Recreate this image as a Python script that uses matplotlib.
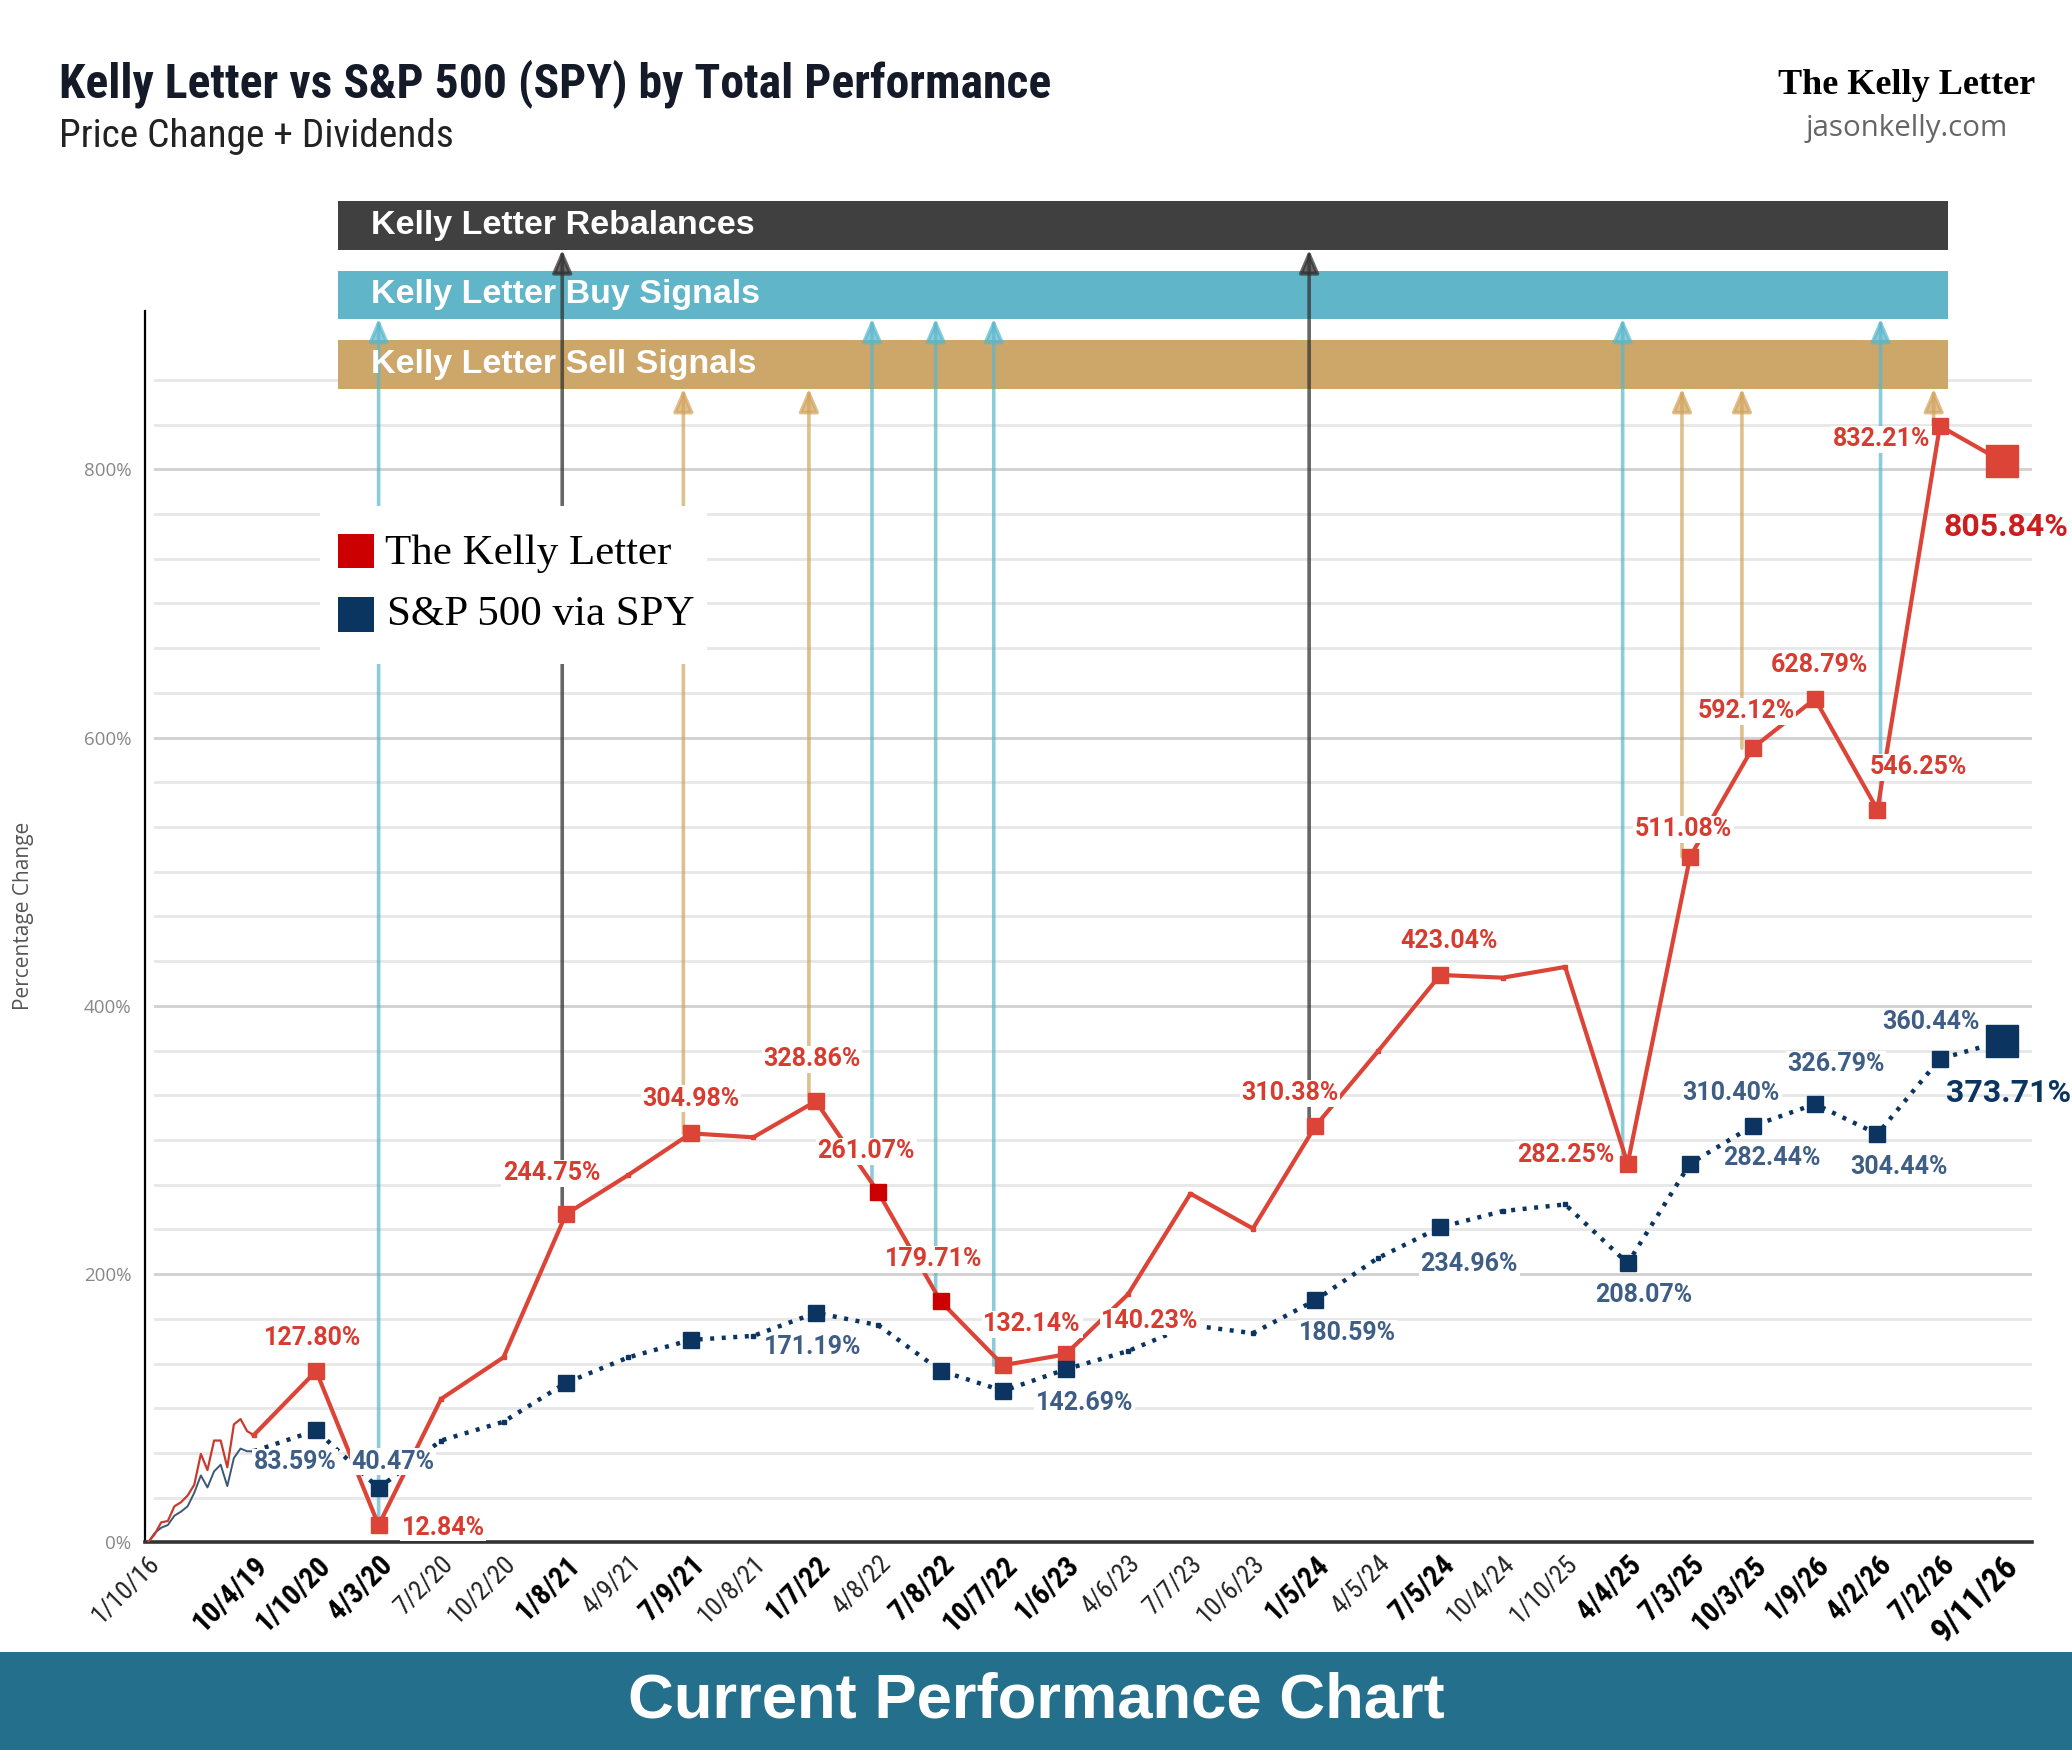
import numpy as np
import matplotlib
matplotlib.use("Agg")
import matplotlib.pyplot as plt
from matplotlib.patches import Rectangle
from matplotlib import font_manager

# ---- data ----
tick_labels = ['1/10/16', '10/4/19', '1/10/20', '4/3/20', '7/2/20', '10/2/20', '1/8/21', '4/9/21',
               '7/9/21', '10/8/21', '1/7/22', '4/8/22', '7/8/22', '10/7/22', '1/6/23', '4/6/23',
               '7/7/23', '10/6/23', '1/5/24', '4/5/24', '7/5/24', '10/4/24', '1/10/25', '4/4/25',
               '7/3/25', '10/3/25', '1/9/26', '4/2/26', '7/2/26', '9/11/26']
bold_dates = ['10/4/19', '1/10/20', '4/3/20', '1/8/21', '7/9/21', '1/7/22', '7/8/22', '10/7/22',
              '1/6/23', '1/5/24', '7/5/24', '4/4/25', '7/3/25', '10/3/25', '1/9/26', '4/2/26',
              '7/2/26', '9/11/26']

# weekly history 1/10/16 -> 10/4/19
early_kelly = [0, 6, 15, 16, 27, 30, 35, 43, 66, 54, 76, 76, 56, 88, 92, 83, 80]
early_spy = [0, 7, 11, 13, 20, 23, 27, 37, 50, 41, 53, 58, 42, 63, 70, 68, 68]

# quarterly points 10/4/19 -> 9/11/26
kelly = [80, 127.80, 12.84, 107, 138, 244.75, 274, 304.98, 302, 328.86, 261.07, 179.71, 132.14,
         140.23, 185, 260, 234, 310.38, 366, 423.04, 421, 429, 282.25, 511.08, 592.12, 628.79,
         546.25, 832.21, 805.84]
spy = [68, 83.59, 40.47, 76, 90, 119, 138, 151, 154, 171.19, 162, 128, 113, 129, 142.69, 162,
       156, 180.59, 212, 234.96, 247, 252, 208.07, 282.44, 310.40, 326.79, 304.44, 360.44, 373.71]

kelly_markers = [1, 2, 5, 7, 9, 12, 13, 17, 19, 22, 23, 24, 25, 26, 27]
kelly_dark_markers = [10, 11]
spy_markers = [1, 2, 5, 7, 9, 11, 12, 13, 17, 19, 22, 23, 24, 25, 26, 27]
kelly_labeled = [1, 2, 5, 7, 9, 10, 11, 12, 13, 17, 19, 22, 23, 24, 25, 26, 27]
spy_labeled = [1, 2, 9, 14, 17, 19, 22, 23, 24, 25, 26, 27]

buy_signals = [2, 10, 11, 12, 22, 26]
sell_signals = [7, 9, 23, 24, 27]
rebalances = [5, 17]

# layout: label offsets (px on the 1568 grid) and arrow shifts (x units)
kelly_offsets = [(-3, 25), (49, -2), (-11, 31), (0, 26), (-3, 32), (-9, 31), (-5, 32), (22, 31),
                 (64, 25), (-19, 25), (7, 26), (-47, 7), (-5, 21), (-5, 28), (3, 26), (31, 32),
                 (-44, -10)]
spy_offsets = [(-16, -24), (11, 20), (-2, -26), (-33, -39), (24, -25), (22, -28), (12, -24),
               (62, 4), (-16, 25), (16, 30), (16, -25), (-7, 28)]
buy_shift = [0, -0.1, -0.08, -0.15, -0.08, 0.05]
sell_shift = [-0.12, -0.11, -0.13, -0.17, -0.1]
rebalance_shift = [-0.06, -0.1]

# ---- fonts ----
names = set(f.name for f in font_manager.fontManager.ttflist)


def pick(*cands):
    for c in cands:
        if c in names:
            return c
    return 'DejaVu Sans'


NARROW = pick('Liberation Sans Narrow', 'Roboto Condensed', 'Roboto')
SANS = pick('Liberation Sans', 'Arial', 'DejaVu Sans')
SERIF = pick('Liberation Serif', 'DejaVu Serif')
ROBOTO = pick('Roboto', 'Liberation Sans')
OPEN = pick('Open Sans', 'Lato', 'DejaVu Sans')

RED = '#dc4437'
DARKRED = '#cc0000'
NAVY = '#0b3560'
RED_TXT = '#d83b2f'
BLUE_TXT = '#3e5e86'
GREY = '#404040'

# layout grid (reference measured on a 1568 x 1324 view)
W, H = 1568, 1324
S = 2072 / W

fig = plt.figure(figsize=(20.72, 17.5), dpi=100)


def fx(px):
    return px / W


def fy(py):
    return 1 - py / H


X0, DX, Y0, DY = 192, 47.26, 1167, 1.015


def xd(px):
    return (px - X0) / DX


def yd(py):
    return (Y0 - py) / DY


ax = fig.add_axes([fx(110), fy(1167), fx(1538) - fx(110), fy(142) - fy(1167)])
ax.set_xlim(xd(110), xd(1538))
ax.set_ylim(0, yd(142))

# gridlines
for k in range(1, 27):
    v = k * 200 / 6
    ax.axhline(v, xmin=0.005, color='#d0d0d0' if k % 6 == 0 else '#e7e7e7', lw=2, zorder=0.5)

tick_pos = [xd(112)] + list(range(len(kelly)))
main_x = np.arange(len(kelly))
early_x = np.linspace(tick_pos[0], 0, len(early_kelly))

# lines
ax.plot(early_x, early_spy, color='#3b5878', lw=1.4, zorder=3)
ax.plot(early_x, early_kelly, color='#c93a2e', lw=1.6, zorder=3)
ax.plot(main_x, spy, color=NAVY, lw=3.2, ls=(0, (0.9, 1.7)), marker='s', ms=3.5, zorder=4)
ax.plot(main_x, kelly, color=RED, lw=3, marker='s', ms=3.5, zorder=5)

ax.plot(kelly_markers, [kelly[i] for i in kelly_markers], 's', ms=12, color=RED, zorder=6)
ax.plot(kelly_dark_markers, [kelly[i] for i in kelly_dark_markers], 's', ms=11, color=DARKRED, zorder=6)
ax.plot(spy_markers, [spy[i] for i in spy_markers], 's', ms=12, color=NAVY, zorder=6)
ax.plot(main_x[-1], kelly[-1], 's', ms=23, color=RED, zorder=6)
ax.plot(main_x[-1], spy[-1], 's', ms=23, color=NAVY, zorder=6)

# signal bars
bars = [('Kelly Letter Rebalances', GREY, 152, 189),
        ('Kelly Letter Buy Signals', '#61b5c8', 205, 241),
        ('Kelly Letter Sell Signals', '#cda66a', 257, 294)]
for label, col, top, bot in bars:
    ax.add_patch(Rectangle((xd(256), yd(bot)), xd(1474) - xd(256), yd(top) - yd(bot),
                           facecolor=col, edgecolor='none', zorder=1.5, clip_on=False))
    ax.text(xd(281), (yd(top) + yd(bot)) / 2, label, color='white', fontsize=24.5,
            fontweight='bold', family=SANS, va='center', ha='left', zorder=3, clip_on=False)


def signal(x, start, end, col, alpha):
    ax.annotate('', xy=(x, end), xytext=(x, start), annotation_clip=False,
                arrowprops=dict(arrowstyle='-|>,head_length=0.7,head_width=0.3', color=col,
                                lw=2.6, alpha=alpha, shrinkA=0, shrinkB=0,
                                mutation_scale=20),
                zorder=2)


for i, sh in zip(rebalances, rebalance_shift):
    signal(i + sh, kelly[i], yd(189), '#333333', 0.75)
for i, sh in zip(buy_signals, buy_shift):
    signal(i + sh, kelly[i], yd(241), '#5ab7cc', 0.7)
for i, sh in zip(sell_signals, sell_shift):
    signal(i + sh, kelly[i], yd(294), '#d2a45e', 0.7)

# data labels
lab_box = dict(facecolor='white', edgecolor='none', pad=1)
for i, (ox, oy) in zip(kelly_labeled, kelly_offsets):
    ax.annotate(f'{kelly[i]:.2f}%', (i, kelly[i]), xytext=(ox * S, oy * S),
                textcoords='offset pixels', ha='center', va='center', color=RED_TXT,
                fontsize=18, fontweight='bold', family=ROBOTO, bbox=lab_box, zorder=7,
                annotation_clip=False)
for i, (ox, oy) in zip(spy_labeled, spy_offsets):
    ax.annotate(f'{spy[i]:.2f}%', (i, spy[i]), xytext=(ox * S, oy * S),
                textcoords='offset pixels', ha='center', va='center', color=BLUE_TXT,
                fontsize=18, fontweight='bold', family=ROBOTO, bbox=lab_box, zorder=7,
                annotation_clip=False)
ax.annotate(f'{kelly[-1]:.2f}%', (main_x[-1], kelly[-1]), xytext=(3 * S, -50 * S),
            textcoords='offset pixels', ha='center', va='center', color='#cc1e1e',
            fontsize=23, fontweight='bold', family=ROBOTO, zorder=7, annotation_clip=False)
ax.annotate(f'{spy[-1]:.2f}%', (main_x[-1], spy[-1]), xytext=(5 * S, -39 * S),
            textcoords='offset pixels', ha='center', va='center', color=NAVY,
            fontsize=23, fontweight='bold', family=ROBOTO, zorder=7, annotation_clip=False)

# axes styling
for side in ['top', 'right']:
    ax.spines[side].set_visible(False)
ax.spines['left'].set_bounds(0, yd(235))
ax.spines['left'].set_linewidth(1.6)
ax.spines['left'].set_color('black')
ax.spines['bottom'].set_linewidth(2.6)
ax.spines['bottom'].set_color('#333333')

ax.set_yticks([0, 200, 400, 600, 800])
ax.set_yticklabels(['0%', '200%', '400%', '600%', '800%'])
ax.tick_params(axis='y', length=0, labelsize=13.5, labelcolor='#888888', pad=10)
for t in ax.get_yticklabels():
    t.set_family(OPEN)

ax.set_xticks(tick_pos)
ax.set_xticklabels(tick_labels)
ax.tick_params(axis='x', length=0, pad=6)
for t in ax.get_xticklabels():
    txt = t.get_text()
    t.set_rotation(45)
    t.set_ha('right')
    t.set_va('top')
    t.set_rotation_mode('anchor')
    t.set_family(NARROW)
    if txt in bold_dates:
        t.set_fontweight('bold')
        t.set_color('black')
        t.set_fontsize(24 if txt == '9/11/26' else 21)
    else:
        t.set_color('#222222')
        t.set_fontsize(19)

fig.text(fx(18), fy(693), 'Percentage Change', rotation=90, fontsize=15, color='#555555',
         family=OPEN, ha='center', va='center')

# legend
fig.add_artist(Rectangle((fx(242), fy(502)), fx(535) - fx(242), fy(383) - fy(502),
                         transform=fig.transFigure, facecolor='white', edgecolor='none', zorder=5))
fig.add_artist(Rectangle((fx(256), fy(430)), fx(283) - fx(256), fy(404) - fy(430),
                         transform=fig.transFigure, facecolor='#cc0000', edgecolor='none', zorder=6))
fig.add_artist(Rectangle((fx(256), fy(478)), fx(283) - fx(256), fy(452) - fy(478),
                         transform=fig.transFigure, facecolor='#0a3560', edgecolor='none', zorder=6))
fig.text(fx(291), fy(419), 'The Kelly Letter', family=SERIF, fontsize=31, va='center',
         ha='left', color='black', zorder=6)
fig.text(fx(293), fy(465), 'S&P 500 via SPY', family=SERIF, fontsize=31, va='center',
         ha='left', color='black', zorder=6)

# header
title = fig.text(fx(45), fy(63), 'Kelly Letter vs S&P 500 (SPY) by Total Performance',
                 family=NARROW, fontweight='bold', fontsize=44, va='center', ha='left',
                 color='#151a28')
subtitle = fig.text(fx(45), fy(103), 'Price Change + Dividends', family=NARROW, fontsize=24,
                    va='center', ha='left', color='#222222')
brand = fig.text(fx(1540), fy(65), 'The Kelly Letter', family=SERIF, fontweight='bold',
                 fontsize=26, va='center', ha='right', color='black')
site = fig.text(fx(1443), fy(97), 'jasonkelly.com', family=OPEN, fontsize=20, va='center',
                ha='center', color='#666666')

# footer banner
fig.add_artist(Rectangle((0, 0), 1, fy(1250), transform=fig.transFigure,
                         facecolor='#236f8c', edgecolor='none', zorder=1))
banner = fig.text(0.5, fy(1287), 'Current Performance Chart', color='white', family=SANS,
                  fontweight='bold', fontsize=40, ha='center', va='center', zorder=2)

# fit header/footer text widths to the reference
fig.canvas.draw()
renderer = fig.canvas.get_renderer()
for t, width in [(title, 750), (subtitle, 300), (brand, 195), (site, 153), (banner, 617)]:
    bb = t.get_window_extent(renderer=renderer)
    t.set_fontsize(t.get_fontsize() * width * S / bb.width)

fig.savefig('out.png', dpi=100)
